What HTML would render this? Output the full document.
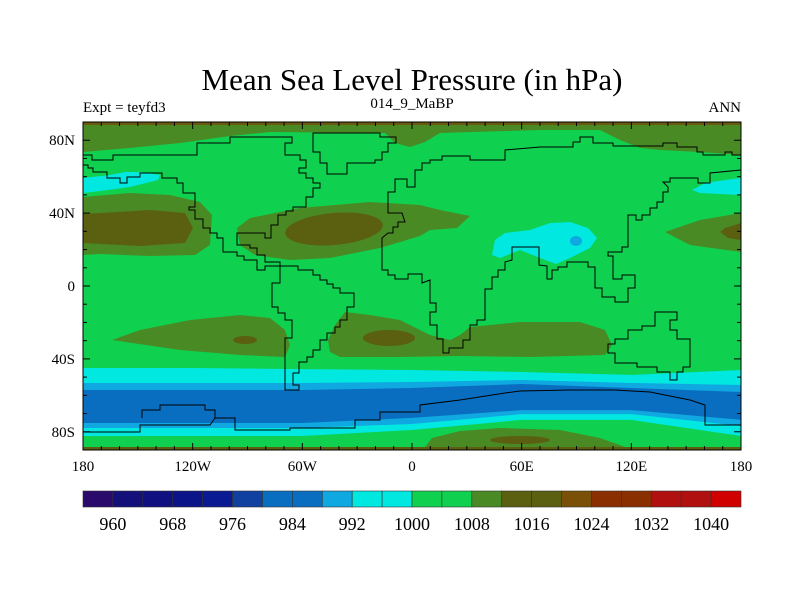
<!DOCTYPE html>
<html><head><meta charset="utf-8"><style>
body{margin:0;background:#fff}
svg{display:block}
text{font-family:"Liberation Serif",serif;fill:#000}
</style></head><body>
<svg id="chart" width="800" height="600" viewBox="0 0 800 600">
<defs><clipPath id="pc"><rect x="83" y="122" width="658" height="328"/></clipPath></defs>
<text x="412" y="90" text-anchor="middle" font-size="31">Mean Sea Level Pressure (in hPa)</text>
<text x="83" y="112" font-size="15">Expt = teyfd3</text>
<text x="412" y="108" text-anchor="middle" font-size="15">014_9_MaBP</text>
<text x="741" y="112" text-anchor="end" font-size="15">ANN</text>
<g id="map" clip-path="url(#pc)"></g>
<g id="coast" clip-path="url(#pc)" fill="none" stroke="#000" stroke-width="1"></g>
<rect x="83" y="122" width="658" height="328" fill="none" stroke="#000" stroke-width="1"/>
<g id="axes"></g>
<g id="cbar"></g>
</svg>
<script>
const NS='http://www.w3.org/2000/svg';
// data
const levels=[960,968,976,984,992,1000,1008,1016,1024,1032,1040];
const barColors=['#2a0a6a','#14107a','#101080','#0c148a','#0a1a92','#1040a0','#0a6ec0','#0a6ec0','#10a8e0','#00e8e0','#00e8e0','#10d050','#10d050','#4a8a24','#5a6010','#5a6010','#7a5008','#8a3000','#8a3000','#b01010','#b01010','#d00000'];
const bandLons=[-180,-120,-60,0,60,120,180];
const cyanTop=[-45.0,-45.0,-45.6,-46.1,-47.2,-48.8,-46.1];
const lbTop=[-53.2,-53.2,-53.2,-52.7,-51.6,-53.2,-54.3];
const blueTop=[-57.1,-57.1,-57.1,-56.0,-53.8,-56.0,-58.2];
const blueBottom=[-75.2,-75.2,-75.2,-72.4,-68.1,-68.1,-73.5];
const lbBottom=[-77.9,-77.9,-77.9,-75.7,-70.3,-70.3,-76.8];
const cyanBottom=[-82.3,-82.3,-82.3,-79.0,-73.5,-73.5,-82.3];
const lonTicks=[-180,-120,-60,0,60,120,180];
const lonLabels=['180','120W','60W','0','60E','120E','180'];
const latTicks=[80,40,0,-40,-80];
const latLabels=['80N','40N','0','40S','80S'];

const X0=83,X1=741,Y0=122,Y1=450;
const xs=lon=>X0+(lon+180)*(X1-X0)/360;
const ys=lat=>Y0+(90-lat)*(Y1-Y0)/180;
const G='#10d050',DG='#4a8a24',OL='#5a6010',CY='#00e8e0',LB='#10a8e0',BL='#0a6ec0';
const map=document.getElementById('map'),coast=document.getElementById('coast');
function mk(tag,attrs,parent){const e=document.createElementNS(NS,tag);for(const k in attrs)e.setAttribute(k,attrs[k]);parent.appendChild(e);return e;}
function poly(pts,fill,name){const e=mk('polygon',{points:pts,fill:fill},map);

return e;}
let bg=mk('rect',{x:X0,y:Y0,width:X1-X0,height:Y1-Y0,fill:G},map);


function band(top,bot,fill,name){
 const p=[];bandLons.forEach((l,i)=>p.push(xs(l)+','+ys(top[i])));
 for(let i=bandLons.length-1;i>=0;i--)p.push(xs(bandLons[i])+','+ys(bot[i]));
 poly(p.join(' '),fill,name);}
band(cyanTop,cyanBottom,CY,'southern-cyan-band');
band(lbTop,lbBottom,LB,'southern-lightblue-band');
band(blueTop,blueBottom,BL,'southern-low-band');
// contour shapes (map geometry in pixels)
poly('83,122 741,122 741,155 700,152 660,150 640,148 620,140 600,130 540,130 440,133 425,142 410,147 395,143 385,133 270,132 230,136 180,143 130,148 83,152',DG,'north-polar-high');
poly('83,122 741,122 741,125 83,125','#6a5a10','polar-edge');
poly('83,178 110,175 125,172 140,172 160,175 158,180 130,187 100,191 83,193',CY,'nw-low');
poly('692,190 705,183 725,180 741,178 741,195 720,194 700,193',CY,'ne-low');
poly('83,197 130,193 170,195 200,202 212,215 210,245 195,255 150,256 100,254 83,255',DG,'pacific-high');
poly('83,214 150,210 185,213 193,228 185,243 140,246 83,243',OL,'pacific-high-core');
poly('237,228 250,218 300,208 370,202 420,205 440,210 470,216 457,228 430,230 420,236 380,248 330,258 290,260 255,255 240,245',DG,'atlantic-high');
mk('ellipse',{cx:334,cy:229,rx:49,ry:16,fill:OL,transform:'rotate(-5 334 229)'},map);
poly('741,213 700,220 665,232 690,245 741,252',DG,'east-pacific-high');
poly('741,223 725,228 720,232 728,238 741,240',OL,'east-pacific-high-core');
poly('492,255 495,240 505,233 530,230 550,223 570,222 588,228 597,238 590,248 570,258 556,264 540,258 520,250 500,258',CY,'asian-low');
mk('ellipse',{cx:576,cy:241,rx:6,ry:5,fill:LB},map);
poly('112,340 140,330 190,320 240,315 270,318 285,330 290,345 285,357 240,355 180,350',DG,'south-pacific-high');
mk('ellipse',{cx:245,cy:340,rx:12,ry:4,fill:OL},map);
poly('328,340 335,325 345,312 370,315 400,320 430,335 450,340 460,335 470,327 520,322 580,322 605,330 612,345 605,355 530,357 460,356 400,357 340,357 330,352',DG,'south-atlantic-indian-high');
mk('ellipse',{cx:389,cy:338,rx:26,ry:8,fill:OL},map);
poly('425,447 432,438 460,431 500,428 560,430 600,438 625,447',DG,'antarctic-high');
mk('ellipse',{cx:520,cy:440,rx:30,ry:4,fill:OL},map);
poly('83,447 741,447 741,450 83,450',OL,'polar-south-edge');
// coastlines
const coasts={
 'south-america':'280,266 298,266 298,270 313,270 313,275 320,275 320,280 327,280 327,284 333,284 333,288 340,288 340,293 354,293 354,307 347,307 347,320 340,320 340,327 335,327 335,333 327,333 327,340 320,340 320,350 313,350 313,357 307,357 307,362 299,362 299,373 293,373 293,385 299,385 299,390 285,390 285,338 292,338 292,320 285,320 285,313 278,313 278,307 272,307 272,283 280,283',
 'north-america':'83,165 88,165 88,168 93,168 93,172 107,172 107,178 120,178 120,183 127,183 127,177 140,177 140,173 162,173 162,178 177,178 177,183 183,183 183,193 195,193 195,207 189,207 189,210 195,210 195,219 203,219 203,228 210,228 210,233 217,233 217,238 223,238 223,252 237,252 237,256 244,256 244,260 257,260 257,270 265,270 265,266 280,266 280,262 265,262 265,255 257,255 257,248 250,248 250,245 237,245 237,233 265,233 265,238 271,238 271,225 278,225 278,215 286,215 286,211 293,211 293,207 306,207 306,197 313,197 313,188 320,188 320,183 313,183 313,178 306,178 306,173 299,173 299,168 306,168 306,160 300,160 300,155 285,155 285,143 292,143 292,137 230,137 230,143 197,143 197,155 113,155 113,160 92,160 92,155 83,155',
 'greenland':'313,133 380,133 380,137 396,137 396,143 388,143 388,152 382,152 382,160 375,160 375,163 347,163 347,174 327,174 327,163 320,163 320,152 313,152',
 'eurasia-africa':'382,238 388,233 393,233 393,227 398,227 398,222 405,222 402,213 388,213 388,192 395,192 395,179 407,179 407,187 415,187 415,170 422,170 422,163 430,163 430,160 442,160 442,156 470,156 470,160 505,160 505,150 540,147 573,147 573,142 580,142 580,137 593,137 593,143 613,143 613,146 663,146 663,143 677,143 677,147 697,147 697,152 703,152 703,155 725,155 725,152 732,152 732,155 741,155 741,170 710,173 710,183 698,183 698,178 670,178 670,182 663,182 668,187 668,192 663,192 663,202 657,202 657,208 650,208 650,215 642,215 642,220 636,220 636,215 628,215 628,247 622,247 622,252 608,252 608,256 613,256 613,279 622,279 622,275 635,275 635,288 628,288 628,302 615,302 615,297 602,297 602,288 595,288 595,267 588,267 588,262 567,262 567,267 558,267 558,270 552,270 552,279 547,279 547,266 539,265 539,247 512,247 512,260 505,262 505,270 498,270 498,277 492,277 492,289 485,289 485,320 477,320 477,325 470,325 470,340 463,340 463,348 449,348 449,353 443,353 443,339 437,339 437,325 430,325 430,312 436,312 436,303 430,303 430,280 422,283 422,274 408,274 408,279 395,279 395,275 388,275 388,270 382,270',
 'australia':'655,312 677,312 677,320 670,320 670,330 677,330 677,339 690,339 690,367 683,367 683,372 677,372 677,380 670,380 670,372 657,372 657,367 637,367 637,363 615,363 615,353 608,353 608,344 615,344 615,339 628,339 628,330 642,330 642,326 655,326',
 'antarctica':'83,432 140,432 140,425 210,425 215,418 235,418 235,430 290,430 290,428 355,428 355,420 380,420 380,412 420,412 420,405 460,400 505,393 520,391 570,390 615,390 650,392 665,395 690,400 705,405 705,425 741,425',
 'ross-shelf':'142,418 142,410 160,410 160,405 205,405 205,410 215,410 215,418'
};
for(const k in coasts){
 const e=mk(k==='antarctica'||k==='ross-shelf'?'polyline':'polygon',{points:coasts[k]},coast);
 
 
}
// axes
const axes=document.getElementById('axes');
for(let l=-180;l<=180;l+=10){const big=l%60===0;
 for(const [yb,d] of [[Y1,-1],[Y0,1]]){
 const t=mk('line',{x1:xs(l),x2:xs(l),y1:yb,y2:yb+d*(big?7:4),stroke:'#000'},axes);
 
 }}
for(let l=-90;l<=90;l+=10){const big=l%40===0;
 for(const [xb,d] of [[X0,1],[X1,-1]]){
 const t=mk('line',{x1:xb,x2:xb+d*(big?7:4),y1:ys(l),y2:ys(l),stroke:'#000'},axes);
 
 }}
lonTicks.forEach((l,i)=>{const t=mk('text',{x:xs(l),y:471,'text-anchor':'middle','font-size':'15'},axes);t.textContent=lonLabels[i];
 
 });
latTicks.forEach((l,i)=>{const t=mk('text',{x:75,y:ys(l)+5,'text-anchor':'end','font-size':'15'},axes);t.textContent=latLabels[i];
 
 });
// colorbar
const cb=document.getElementById('cbar');const bw=(X1-X0)/barColors.length;
barColors.forEach((c,i)=>{const r=mk('rect',{x:X0+i*bw,y:491,width:bw,height:16,fill:c,stroke:'#333','stroke-width':'0.6'},cb);
 
 });
levels.forEach((v,i)=>{const t=mk('text',{x:X0+(1+2*i)*bw,y:530,'text-anchor':'middle','font-size':'18'},cb);t.textContent=v;
 
 });
</script>
</body></html>
